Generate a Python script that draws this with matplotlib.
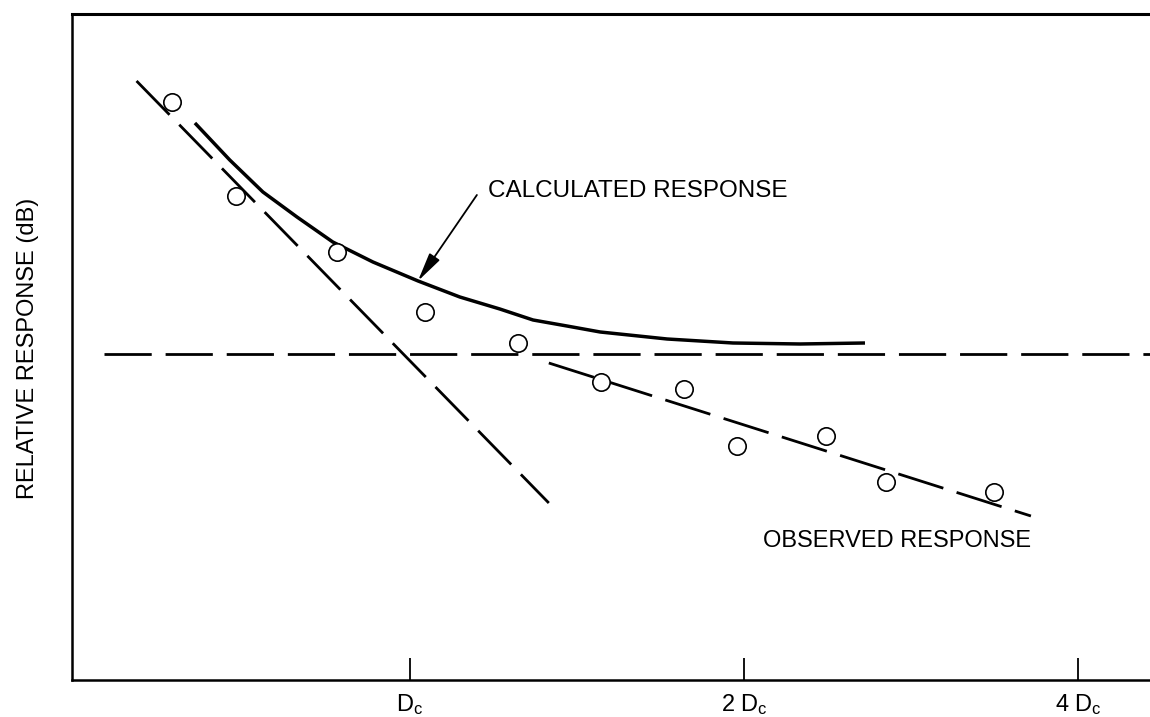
import matplotlib
matplotlib.use('Agg')

import matplotlib.pyplot as plt
from matplotlib.ticker import NullLocator

plt.rcParams['font.family'] = ['Liberation Sans', 'DejaVu Sans']
plt.rcParams['mathtext.fontset'] = 'custom'
plt.rcParams['mathtext.rm'] = 'Liberation Sans'
plt.rcParams['mathtext.it'] = 'Liberation Sans'

# x in units of D_c (log2 axis), y in dB relative to the reference level
obs_x = [0.610, 0.697, 0.859, 1.032, 1.251, 1.486, 1.766, 1.971, 2.371, 2.686, 3.360]
obs_y = [12.6, 7.9, 5.1, 2.1, 0.55, -1.4, -1.75, -4.6, -4.1, -6.4, -6.9]

calc_x = [0.640, 0.688, 0.737, 0.791, 0.852, 0.926, 1.017, 1.109, 1.205, 1.291,
          1.385, 1.484, 1.705, 1.955, 2.247, 2.571]
calc_y = [11.55, 9.7, 8.1, 6.85, 5.6, 4.6, 3.65, 2.85, 2.25, 1.7,
          1.4, 1.1, 0.75, 0.55, 0.5, 0.55]

steep_x = [0.567, 1.334]
steep_y = [13.65, -7.45]

shallow_x = [1.334, 3.628]
shallow_y = [-0.45, -8.1]

ref_x = [0.530, 4.7]
ref_y = [0.0, 0.0]

tick_pos = [1, 2, 4]
tick_labels = [r'$\mathrm{D_c}$', r'2 $\mathrm{D_c}$', r'4 $\mathrm{D_c}$']

fig = plt.figure(figsize=(11.5, 7.17), dpi=100)
ax = fig.add_axes([0.0626, 0.0516, 1 - 0.0626, 0.9289])

dash = (0, (17, 5))
ax.plot(ref_x, ref_y, color='black', lw=2, linestyle=dash)
ax.plot(steep_x, steep_y, color='black', lw=2, linestyle=dash)
ax.plot(shallow_x, shallow_y, color='black', lw=2, linestyle=dash)
ax.plot(calc_x, calc_y, color='black', lw=2.5, solid_capstyle='butt',
        solid_joinstyle='round')
ax.plot(obs_x, obs_y, 'o', ms=12.5, mfc='white', mec='black', mew=1.2, zorder=5)

ax.annotate('', xy=(1.0167, 3.65), xytext=(1.149, 7.95),
            arrowprops=dict(arrowstyle='-|>,head_length=0.8,head_width=0.17',
                            mutation_scale=22, lw=1.3, color='black',
                            shrinkA=0, shrinkB=0))
ax.text(1.1756, 7.85, 'CALCULATED RESPONSE', fontsize=17.5, va='baseline', ha='left')
ax.text(2.080, -9.65, 'OBSERVED RESPONSE', fontsize=17, va='baseline', ha='left')

ax.set_xscale('log', base=2)
ax.set_xlim(0.4959, 4.645)
ax.set_ylim(-16.3, 17.0)
ax.set_xticks(tick_pos)
ax.set_xticklabels(tick_labels, fontsize=17)
ax.xaxis.set_minor_locator(NullLocator())
ax.tick_params(axis='x', direction='in', length=16, width=1.3, pad=9)
ax.set_yticks([])

for side in ['left', 'bottom']:
    ax.spines[side].set_linewidth(1.8)
ax.spines['top'].set_linewidth(2.2)
ax.spines['right'].set_visible(False)

fig.text(28 / 1150, 0.5146, 'RELATIVE RESPONSE (dB)', rotation=90,
         fontsize=17, ha='center', va='center')

fig.savefig('out.png', dpi=100)
plt.close(fig)
